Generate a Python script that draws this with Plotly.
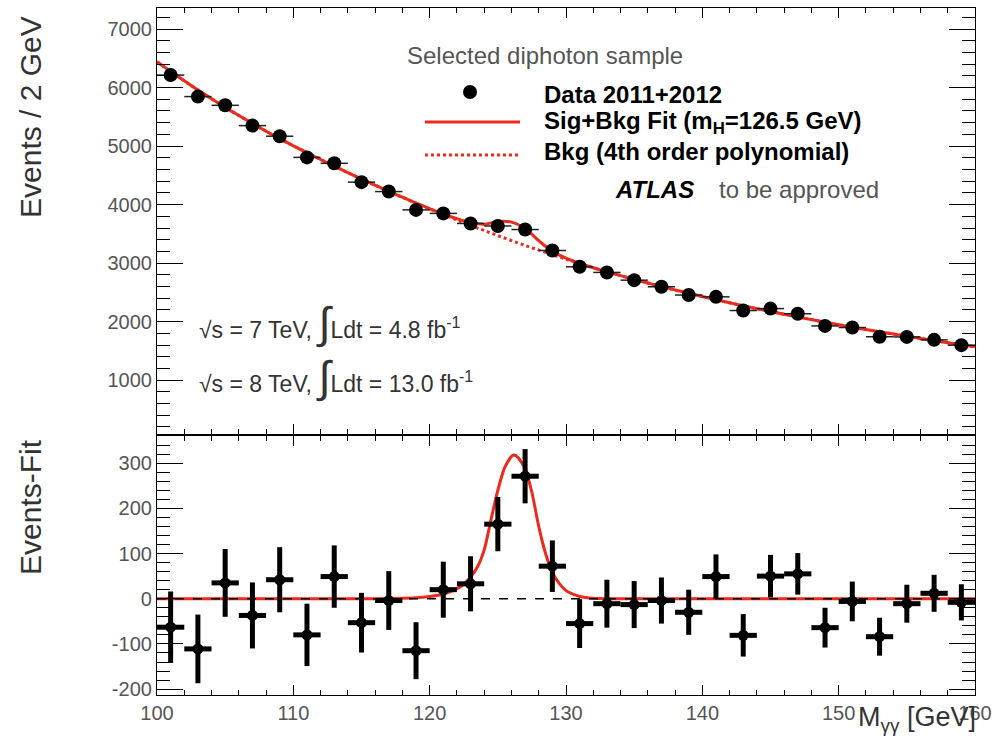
import numpy as np
import plotly.graph_objects as go

W, H = 1003, 741
FONT = "Liberation Sans, Arial, Helvetica, sans-serif"
RED = "#ec2a1e"

# ---- diphoton invariant mass spectrum, 2 GeV bins ----
mass = [101, 103, 105, 107, 109, 111, 113, 115, 117, 119,
        121, 123, 125, 127, 129, 131, 133, 135, 137, 139,
        141, 143, 145, 147, 149, 151, 153, 155, 157, 159]
events = [6214, 5846, 5697, 5350, 5169, 4807, 4706, 4384, 4223, 3910,
          3850, 3678, 3635, 3574, 3216, 2937, 2841, 2709, 2596, 2455,
          2424, 2190, 2223, 2135, 1927, 1900, 1742, 1739, 1689, 1598]
events_err = [79, 76, 75, 73, 72, 69, 69, 66, 65, 63,
              62, 61, 60, 60, 57, 54, 53, 52, 51, 50,
              49, 47, 47, 46, 44, 44, 42, 42, 41, 40]
bin_half_width = [1] * len(mass)

# data minus background fit
residual = [-63, -111, 35, -37, 42, -80, 49, -53, -4, -115,
            20, 33, 165, 271, 72, -55, -11, -13, -4, -30,
            49, -81, 50, 55, -64, -6, -84, -11, 12, -8]

# background fit (4th order polynomial) sampled every 1 GeV
fit_mass = list(range(100, 161))
bkg_fit = [6440, 6277, 6115, 5957, 5808, 5662, 5523, 5387, 5255, 5127,
           5005, 4887, 4771, 4657, 4546, 4437, 4331, 4227, 4125, 4025,
           3926, 3830, 3737, 3645, 3557, 3470, 3386, 3303, 3223, 3144,
           3067, 2992, 2921, 2852, 2786, 2722, 2660, 2600, 2542, 2485,
           2429, 2375, 2322, 2271, 2221, 2173, 2126, 2080, 2035, 1991,
           1948, 1906, 1866, 1826, 1788, 1750, 1713, 1677, 1641, 1606,
           1572]

# signal component of the fit (m_H = 126.5 GeV)
sig_mass = [100, 110, 116, 118, 119, 120, 121, 121.5, 122, 122.5, 123, 123.5,
            124, 124.5, 125, 125.5, 126, 126.2, 126.5, 127, 127.5, 128, 128.5,
            129, 129.5, 130, 130.5, 131, 132, 134, 140, 160]
sig_fit = [0, 0, 0, 1, 2, 5, 10, 15, 22, 32, 48, 70,
           108, 175, 240, 290, 315, 318, 312, 288, 235, 160, 100,
           58, 34, 18, 10, 5, 1, 0, 0, 0]

# axis ticks
x_ticks = [100, 110, 120, 130, 140, 150, 160]
x_minor = list(range(100, 161, 2))
y_ticks_top = [1000, 2000, 3000, 4000, 5000, 6000, 7000]
y_minor_top = list(range(200, 7400, 200))
y_ticks_bot = [-200, -100, 0, 100, 200, 300]
y_minor_bot = list(range(-200, 361, 20))

# signal + background on the 1 GeV grid
sig_lookup = dict(zip(sig_mass, sig_fit))
sb_fit = [b + sig_lookup.get(m, 0) for m, b in zip(fit_mass, bkg_fit)]
bkg_minus_bkg = list(np.array(bkg_fit) - np.array(bkg_fit))


def px(x):
    return x / W


def py(y):
    return 1 - y / H


fig = go.Figure()

# ---------------- upper panel ----------------
fig.add_trace(go.Scatter(x=fit_mass, y=bkg_fit, mode="lines",
                         line=dict(color=RED, width=3, dash="dot", shape="spline"),
                         xaxis="x", yaxis="y", showlegend=False))
fig.add_trace(go.Scatter(x=fit_mass, y=sb_fit, mode="lines",
                         line=dict(color=RED, width=3, shape="spline"),
                         xaxis="x", yaxis="y", showlegend=False))
fig.add_trace(go.Scatter(x=mass, y=events, mode="markers",
                         marker=dict(color="black", size=14),
                         error_x=dict(type="data", array=bin_half_width, color="#222222",
                                      thickness=1.5, width=0),
                         error_y=dict(type="data", array=events_err, color="black",
                                      thickness=2, width=0),
                         xaxis="x", yaxis="y", showlegend=False))

# ---------------- lower panel ----------------
fig.add_trace(go.Scatter(x=sig_mass, y=sig_fit, mode="lines",
                         line=dict(color=RED, width=3, shape="spline", smoothing=0.6),
                         xaxis="x2", yaxis="y2", showlegend=False))
fig.add_trace(go.Scatter(x=fit_mass, y=bkg_minus_bkg, mode="lines",
                         line=dict(color="black", width=1.5, dash="dash"),
                         xaxis="x2", yaxis="y2", showlegend=False))
fig.add_trace(go.Scatter(x=mass, y=residual, mode="markers",
                         marker=dict(color="black", size=11),
                         error_x=dict(type="data", array=bin_half_width, color="black",
                                      thickness=5, width=0),
                         error_y=dict(type="data", array=events_err, color="black",
                                      thickness=5, width=0),
                         xaxis="x2", yaxis="y2", showlegend=False))

tickfont = dict(family=FONT, size=20, color="#555555")
common = dict(showline=True, linecolor="black", linewidth=1.2, mirror="allticks",
              ticks="inside", tickcolor="black", showgrid=False, zeroline=False,
              automargin=False)
xcommon = dict(common, range=[100, 160], tickmode="array", tickvals=x_ticks,
               ticktext=[str(v) for v in x_ticks], ticklen=10, tickwidth=1.2,
               minor=dict(tickmode="array", tickvals=x_minor, ticklen=5,
                          ticks="inside", tickcolor="black", tickwidth=1))
ycommon = dict(common, ticklen=26, tickwidth=1.2, tickfont=tickfont, tickmode="array")

fig.update_layout(
    template="none",
    width=W, height=H,
    margin=dict(l=0, r=0, t=0, b=0, autoexpand=False),
    paper_bgcolor="white", plot_bgcolor="white",
    font=dict(family=FONT),
    showlegend=False,
    xaxis=dict(xcommon, domain=[px(157), px(975)], anchor="y", showticklabels=False),
    xaxis2=dict(xcommon, domain=[px(157), px(975)], anchor="y2", showticklabels=True,
                tickfont=tickfont),
    yaxis=dict(ycommon, domain=[py(434), py(8)], anchor="x", range=[80, 7360],
               tickvals=y_ticks_top, ticktext=[str(v) for v in y_ticks_top],
               minor=dict(tickmode="array", tickvals=y_minor_top, ticklen=13,
                          ticks="inside", tickcolor="black", tickwidth=1)),
    yaxis2=dict(ycommon, domain=[py(695), py(436)], anchor="x2", range=[-213, 360],
                tickvals=y_ticks_bot, ticktext=[str(v) for v in y_ticks_bot],
                minor=dict(tickmode="array", tickvals=y_minor_bot, ticklen=13,
                           ticks="inside", tickcolor="black", tickwidth=1)),
)

# legend symbols
fig.add_shape(type="circle", xref="paper", yref="paper",
              x0=px(463), x1=px(477), y0=py(99), y1=py(85),
              fillcolor="black", line=dict(color="black", width=0))
fig.add_shape(type="line", xref="paper", yref="paper",
              x0=px(425), x1=px(520), y0=py(122), y1=py(122),
              line=dict(color=RED, width=3))
fig.add_shape(type="line", xref="paper", yref="paper",
              x0=px(425), x1=px(520), y0=py(155), y1=py(155),
              line=dict(color=RED, width=3, dash="dot"))


def label(text, x, y, size=24, color="black", xanchor="left", yanchor="middle", angle=0):
    fig.add_annotation(text=text, xref="paper", yref="paper", x=px(x), y=py(y),
                       xanchor=xanchor, yanchor=yanchor, showarrow=False, textangle=angle,
                       font=dict(family=FONT, size=size, color=color))


label("Selected diphoton sample", 405, 55, color="#555555")
label("<b>Data 2011+2012</b>", 542, 95)
label("<b>Sig+Bkg Fit (m<sub>H</sub>=126.5 GeV)</b>", 542, 122)
label("<b>Bkg (4th order polynomial)</b>", 542, 152)
label("<b><i>ATLAS</i></b>", 613, 190)
label("to be approved", 717, 190, color="#555555")

label('√s = 7 TeV, <span style="font-size:44px">∫</span>Ldt = 4.8 fb<sup>-1</sup>',
      197, 323, size=23, color="#333333")
label('√s = 8 TeV, <span style="font-size:44px">∫</span>Ldt = 13.0 fb<sup>-1</sup>',
      197, 377, size=23, color="#333333")

label("Events / 2 GeV", 30, 117, size=30, color="#333333", xanchor="center", angle=-90)
label("Events-Fit", 30, 507, size=30, color="#333333", xanchor="center", angle=-90)
label("M<sub>γγ</sub> [GeV]", 978, 700, size=27, color="#333333",
      xanchor="right", yanchor="top")

fig.write_html("out.html")
